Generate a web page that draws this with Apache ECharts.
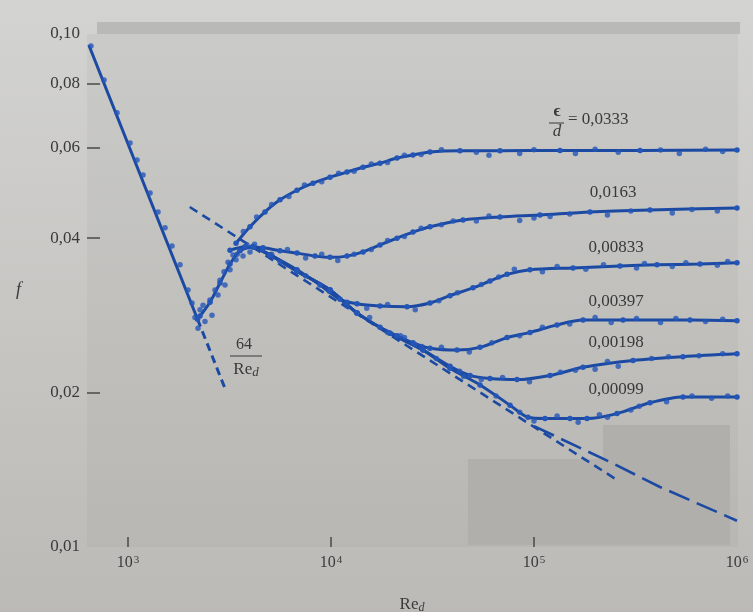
<!DOCTYPE html>
<html><head><meta charset="utf-8">
<script src="https://cdn.jsdelivr.net/npm/echarts@6.0.0/dist/echarts.min.js"></script>
<style>html,body{margin:0;padding:0;background:#cbcbc9}#c{width:753px;height:612px}</style>
</head><body><div id="c"></div>
<script>
// ---------- tick data ----------
const reLabelExps = [3, 4, 5, 6];
const reTickExps = [3, 4, 5];
const fLabelValues = [0.01, 0.02, 0.04, 0.06, 0.08, 0.10];
const fTickValues = [0.02, 0.04, 0.06, 0.08];
const curveLabels = ['0,0333', '0,0163', '0,00833', '0,00397', '0,00198', '0,00099'];

// ---------- series data [Re, f] ----------
const laminar = [[641, 0.0952], [2200, 0.0278]];
const laminarDash = [[2200, 0.0278], [3030, 0.0202]];
const laminarDots = [[657,0.0948],[762,0.0813],[883,0.0702],[1023,0.0613],[1108,0.0568],[1186,0.0531],[1284,0.0490],[1405,0.0450],[1522,0.0419],[1647,0.0386],[1804,0.0355],[1975,0.0317],[2067,0.0299]];
const transition = [[2200,0.0278],[2263,0.0282],[2535,0.0300],[2839,0.0327],[3180,0.0356],[3562,0.0378],[4128,0.0385]];
const transDots = [[2138,0.0280],[2212,0.0267],[2263,0.0290],[2342,0.0296],[2395,0.0275],[2535,0.0303],[2593,0.0283],[2683,0.0317],[2775,0.0310],[2839,0.0331],[2971,0.0344],[3005,0.0324],[3109,0.0359],[3180,0.0347],[3291,0.0371],[3405,0.0363],[3562,0.0379],[3686,0.0369],[3857,0.0388],[3990,0.0376]];
const blasius = [[2014, 0.0460], [250000, 0.0136]];
const prandtl = [[100000, 0.0172], [236600, 0.01465], [417500, 0.01309], [1000000, 0.01125]];

const c0333 = [[3405,0.0391],[3990,0.0421],[4730,0.0450],[5608,0.0475],[6800,0.0496],[8154,0.0512],[9888,0.0526],[11990,0.0538],[14380,0.0550],[17430,0.0560],[21140,0.0573],[25350,0.0581],[30740,0.0589],[43200,0.0592],[68000,0.0592],[134300,0.0593],[332900,0.0593],[1000000,0.0594]];
const c0163 = [[3180,0.0379],[3770,0.0385],[4624,0.0383],[5608,0.0378],[6800,0.0374],[8342,0.0369],[9888,0.0367],[11990,0.0369],[14380,0.0376],[17430,0.0388],[21140,0.0400],[25350,0.0411],[30740,0.0421],[44690,0.0434],[68000,0.0440],[107000,0.0444],[188700,0.0450],[372700,0.0454],[1000000,0.0458]];
const c00833 = [[4128,0.0385],[5006,0.0371],[6800,0.0347],[8830,0.0324],[11077,0.0304],[13430,0.0298],[17430,0.0295],[23680,0.0294],[30740,0.0299],[38550,0.0309],[50060,0.0320],[60710,0.0330],[73630,0.0340],[95570,0.0347],[155700,0.0350],[265200,0.0353],[403600,0.0355],[657200,0.0356],[1000000,0.0358]];
const c00397 = [[4128,0.0385],[5006,0.0371],[6800,0.0345],[9888,0.0317],[13430,0.0286],[17430,0.0268],[21140,0.0258],[25350,0.0250],[30740,0.0244],[41750,0.0242],[54200,0.0245],[73630,0.0256],[95570,0.0262],[129800,0.0271],[174300,0.0277],[274400,0.0277],[586800,0.0277],[1000000,0.0276]];
const c00198 = [[4128,0.0385],[5006,0.0371],[6800,0.0345],[9888,0.0317],[13430,0.0286],[19530,0.0261],[28390,0.0242],[38550,0.0225],[48390,0.0216],[60710,0.0213],[82470,0.0212],[119900,0.0216],[174300,0.0224],[307400,0.0231],[542000,0.0235],[1000000,0.0238]];
const c00099 = [[4128,0.0385],[5006,0.0371],[6800,0.0345],[9888,0.0317],[13430,0.0286],[19530,0.0261],[28390,0.0242],[38550,0.0223],[54200,0.0207],[76180,0.0189],[93420,0.0179],[113300,0.0178],[150400,0.0178],[182400,0.0178],[256400,0.0182],[372700,0.0191],[542000,0.0196],[1000000,0.0196]];

const d0333 = [[3700,0.0412],[4300,0.0440],[5100,0.0465],[6200,0.0482],[7400,0.0508],[9000,0.0515],[10900,0.0535],[13000,0.0540],[15800,0.0558],[19000,0.0562],[23000,0.0580],[27800,0.0582],[35000,0.0595],[52000,0.0588],[60000,0.0580],[85000,0.0585],[100000,0.0595],[160000,0.0585],[200000,0.0596],[260000,0.0588],[420000,0.0594],[520000,0.0585],[700000,0.0596],[850000,0.0590]];
const d0163 = [[3450,0.0372],[4200,0.0389],[5100,0.0372],[6100,0.0380],[7500,0.0366],[9000,0.0372],[10800,0.0362],[13000,0.0372],[15800,0.0380],[19000,0.0396],[23000,0.0403],[27800,0.0418],[35000,0.0425],[40000,0.0432],[52000,0.0432],[60000,0.0442],[85000,0.0433],[100000,0.0438],[120000,0.0441],[150000,0.0446],[230000,0.0444],[300000,0.0452],[480000,0.0448],[600000,0.0455],[800000,0.0452]];
const d00833 = [[4600,0.0380],[5600,0.0360],[7500,0.0338],[9800,0.0315],[12000,0.0300],[15000,0.0292],[19000,0.0297],[26000,0.0290],[34000,0.0302],[42000,0.0313],[55000,0.0325],[67000,0.0336],[80000,0.0348],[110000,0.0344],[130000,0.0352],[180000,0.0348],[220000,0.0355],[320000,0.0350],[350000,0.0357],[480000,0.0352],[560000,0.0358],[800000,0.0354],[900000,0.0360]];
const d00397 = [[12000,0.0295],[15500,0.0280],[19000,0.0262],[23000,0.0256],[28000,0.0246],[35000,0.0245],[48000,0.0240],[62000,0.0250],[85000,0.0258],[110000,0.0268],[150000,0.0272],[200000,0.0280],[240000,0.0274],[320000,0.0279],[420000,0.0274],[500000,0.0279],[700000,0.0275],[850000,0.0278]];
const d00198 = [[22000,0.0258],[26000,0.0248],[33000,0.0233],[43000,0.0220],[55000,0.0212],[70000,0.0214],[95000,0.0210],[135000,0.0219],[160000,0.0221],[200000,0.0222],[230000,0.0230],[260000,0.0225],[380000,0.0233],[460000,0.0235],[650000,0.0236],[850000,0.0238]];
const d00099 = [[45000,0.0215],[65000,0.0197],[85000,0.0183],[100000,0.0176],[130000,0.0180],[165000,0.0175],[210000,0.0181],[230000,0.0179],[300000,0.0185],[330000,0.0188],[450000,0.0192],[600000,0.0197],[750000,0.0195],[900000,0.0197]];

// ---------- styling ----------
const SERIF = '"Liberation Serif","DejaVu Serif",serif';
const LINE = '#1c4aa2', DOT = '#2456b8', TXT = '#3a3a3a';

function lineSeries(data, opts) {
  opts = opts || {};
  return {
    type: 'line', data: data, smooth: opts.smooth || 0, z: opts.z || 3,
    showSymbol: !!opts.dots, symbol: 'circle', symbolSize: 5.5,
    itemStyle: { color: DOT },
    lineStyle: { color: LINE, width: opts.width || 3, type: opts.dash || 'solid', cap: 'butt' },
    silent: true, animation: false
  };
}
function dotSeries(data) {
  return { type: 'scatter', data: data, symbol: 'circle', symbolSize: 5.5, z: 4,
    itemStyle: { color: DOT }, silent: true, animation: false };
}

const chart = echarts.init(document.getElementById('c'), null, { renderer: 'canvas' });

function txt(x, y, text, extra) {
  return Object.assign({ type: 'text', x: x, y: y, z: 10, silent: true,
    style: Object.assign({ text: text, fontFamily: SERIF, fontSize: 17, fill: TXT, align: 'center', verticalAlign: 'middle' }, extra || {}) });
}

const option = {
  backgroundColor: { type: 'linear', x: 0, y: 0, x2: 0, y2: 1,
    colorStops: [{ offset: 0, color: '#d3d3d1' }, { offset: 1, color: '#bcbab6' }] },
  animation: false,
  grid: { left: 87, right: 16, top: 34, bottom: 65, containLabel: false, outerBoundsMode: 'none' },
  xAxis: [
    { type: 'log', logBase: 10, min: 628, max: 1000000, show: false },
    { type: 'value', min: Math.log10(628), max: 6, position: 'bottom',
      axisLine: { show: false }, splitLine: { show: false },
      axisTick: { show: true, inside: true, length: 10, customValues: reTickExps, lineStyle: { color: '#4a4a4a', width: 1.5 } },
      axisLabel: { customValues: reLabelExps, margin: 8, color: TXT, fontFamily: SERIF, fontSize: 16,
        formatter: v => '10{s|' + Math.round(v) + '}',
        rich: { s: { fontSize: 11, fontFamily: SERIF, color: TXT, verticalAlign: 'top', padding: [0, 0, 0, 1] } } },
      name: '{a|Re}{b|d}', nameLocation: 'middle', nameGap: 49,
      nameTextStyle: { rich: { a: { fontFamily: SERIF, fontSize: 17, color: TXT }, b: { fontFamily: SERIF, fontSize: 12, fontStyle: 'italic', color: TXT, verticalAlign: 'bottom', padding: [6, 0, 0, 0] } } }
    }
  ],
  yAxis: [
    { type: 'log', logBase: 10, min: 0.01, max: 0.1, show: false },
    { type: 'value', min: -2, max: -1, position: 'left',
      axisLine: { show: false }, splitLine: { show: false },
      axisTick: { show: true, inside: true, length: 13, customValues: fTickValues.map(Math.log10), lineStyle: { color: '#4a4a4a', width: 1.5 } },
      axisLabel: { customValues: fLabelValues.map(Math.log10), margin: 7, color: TXT, fontFamily: SERIF, fontSize: 17,
        formatter: v => Math.pow(10, v).toFixed(2).replace('.', ',') },
      name: 'f', nameLocation: 'middle', nameGap: 66, nameRotate: 0,
      nameTextStyle: { fontFamily: SERIF, fontSize: 18, fontStyle: 'italic', color: TXT }
    }
  ],
  graphic: [
    { type: 'rect', z: 0, silent: true, shape: { x: 87, y: 34, width: 651, height: 513 },
      style: { fill: { type: 'linear', x: 0, y: 0, x2: 0, y2: 1, colorStops: [{ offset: 0, color: '#cacac8' }, { offset: 1, color: '#b8b7b3' }] } } },
    { type: 'rect', z: 0, silent: true, shape: { x: 97, y: 22, width: 643, height: 12 }, style: { fill: '#b9b9b7' } },
    { type: 'rect', z: 0, silent: true, shape: { x: 603, y: 425, width: 127, height: 120 }, style: { fill: '#b1afab' } },
    { type: 'rect', z: 0, silent: true, shape: { x: 468, y: 459, width: 262, height: 86 }, style: { fill: '#b1afab' } },
    // epsilon / d label
    txt(557, 112, '\u03f5', { fontSize: 17, fontWeight: 'bold' }),
    { type: 'line', z: 10, silent: true, shape: { x1: 549, y1: 123, x2: 564, y2: 123 }, style: { stroke: TXT, lineWidth: 1 } },
    txt(557, 132, 'd', { fontSize: 17, fontStyle: 'italic' }),
    txt(568, 120, '= ' + curveLabels[0], { align: 'left' }),
    txt(613, 193, curveLabels[1]),
    txt(616, 248, curveLabels[2]),
    txt(616, 302, curveLabels[3]),
    txt(616, 343, curveLabels[4]),
    txt(616, 390, curveLabels[5]),
    // 64 / Re_d
    txt(244, 345, '64', { fontSize: 16 }),
    { type: 'line', z: 10, silent: true, shape: { x1: 230, y1: 356, x2: 262, y2: 356 }, style: { stroke: TXT, lineWidth: 1 } },
    txt(246, 370, '{a|Re}{b|d}', { rich: { a: { fontFamily: SERIF, fontSize: 17, fill: TXT }, b: { fontFamily: SERIF, fontSize: 13, fontStyle: 'italic', fill: TXT, verticalAlign: 'bottom', padding: [6, 0, 0, 0] } } })
  ],
  series: [
    lineSeries(laminar, { width: 3 }),
    lineSeries(laminarDash, { width: 3, dash: [8, 5] }),
    lineSeries(blasius, { width: 2.6, dash: [9, 6] }),
    lineSeries(prandtl, { width: 2.6, dash: [22, 8] }),
    lineSeries(transition, { smooth: 0.3, dots: true }),
    lineSeries(c0333, { smooth: 0.3, dots: true }),
    lineSeries(c0163, { smooth: 0.3, dots: true }),
    lineSeries(c00833, { smooth: 0.3, dots: true }),
    lineSeries(c00397, { smooth: 0.3, dots: true }),
    lineSeries(c00198, { smooth: 0.3, dots: true }),
    lineSeries(c00099, { smooth: 0.3, dots: true }),
    dotSeries(laminarDots), dotSeries(transDots),
    dotSeries(d0333), dotSeries(d0163), dotSeries(d00833),
    dotSeries(d00397), dotSeries(d00198), dotSeries(d00099)
  ]
};
chart.setOption(option);
</script></body></html>
